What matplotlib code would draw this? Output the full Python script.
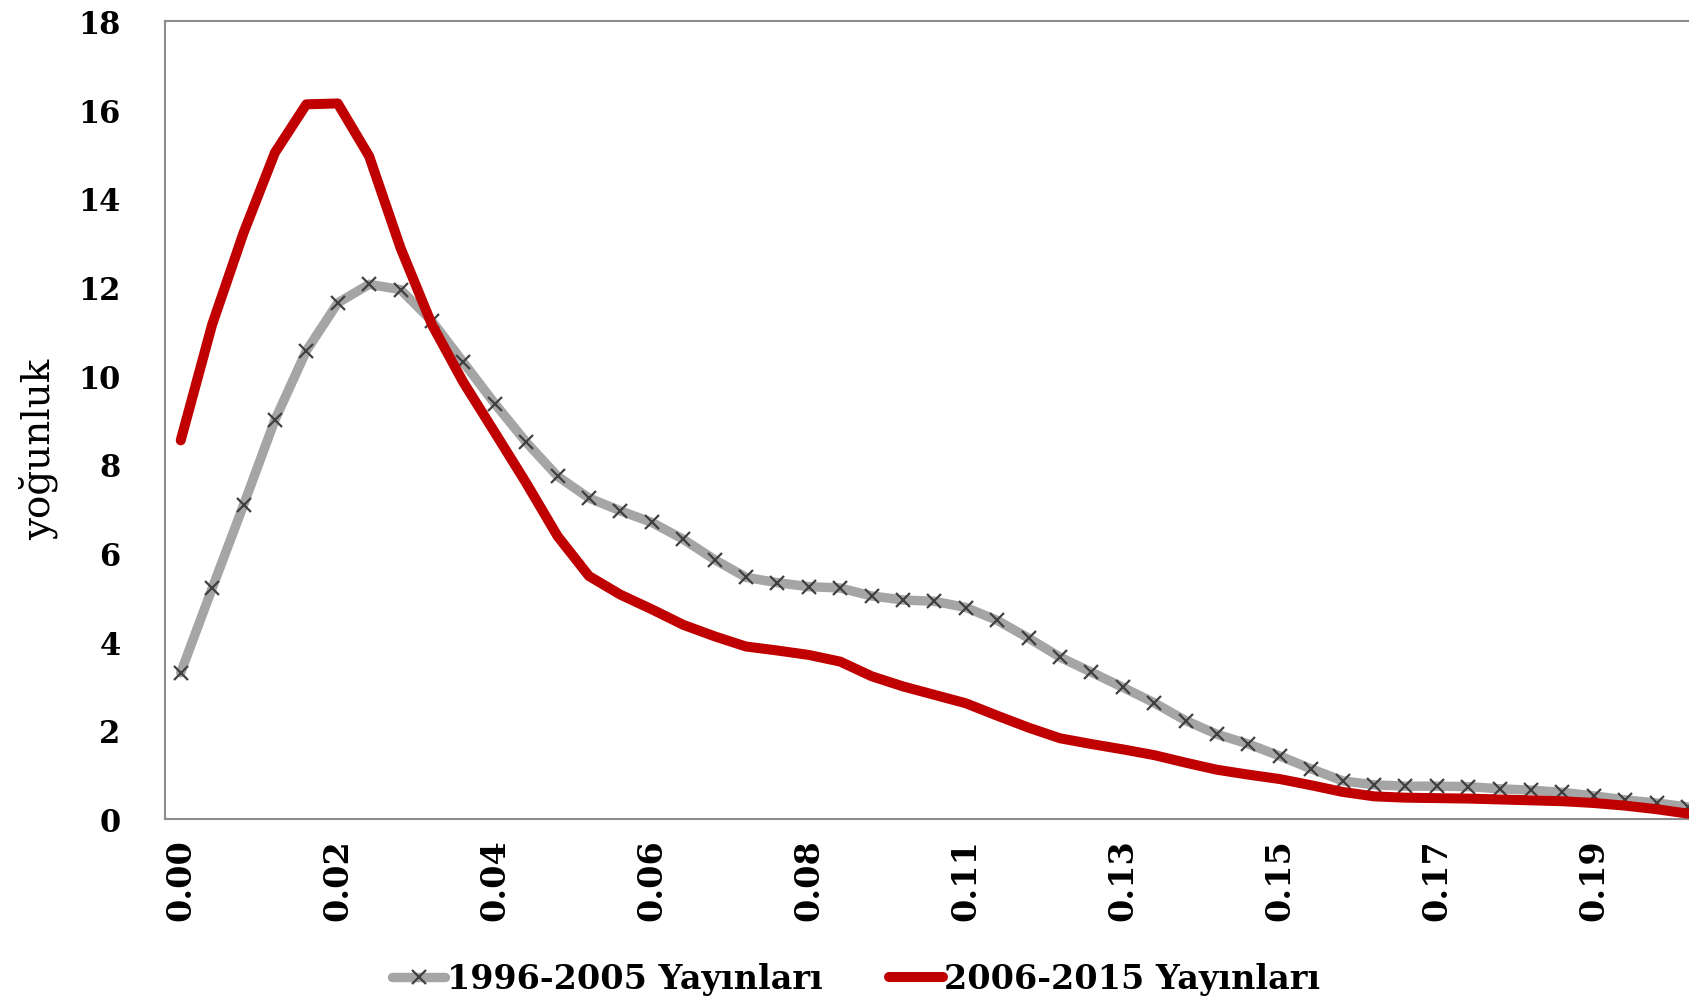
import matplotlib
matplotlib.use("Agg")
import matplotlib.pyplot as plt
import numpy as np

# yoğunluk değerleri (49 nokta, adım ~0.0042)
step = 0.00422
n_pts = 49
tick_every = 5

seri_1996 = [3.30, 5.20, 7.08, 9.00, 10.56, 11.64, 12.06, 11.94, 11.23, 10.30,
             9.37, 8.50, 7.73, 7.24, 6.95, 6.69, 6.31, 5.85, 5.45, 5.33,
             5.24, 5.21, 5.03, 4.94, 4.91, 4.77, 4.48, 4.08, 3.65, 3.31,
             2.97, 2.62, 2.22, 1.91, 1.69, 1.42, 1.13, 0.86, 0.77, 0.74,
             0.74, 0.73, 0.68, 0.65, 0.60, 0.52, 0.43, 0.36, 0.27]
seri_2006 = [8.54, 11.15, 13.22, 15.03, 16.12, 16.14, 14.95, 12.88, 11.15, 9.85,
             8.72, 7.58, 6.38, 5.48, 5.06, 4.73, 4.38, 4.12, 3.89, 3.80,
             3.70, 3.55, 3.22, 2.99, 2.80, 2.61, 2.33, 2.06, 1.82, 1.69,
             1.57, 1.44, 1.27, 1.11, 1.00, 0.90, 0.76, 0.61, 0.51, 0.48,
             0.47, 0.46, 0.44, 0.42, 0.40, 0.36, 0.30, 0.22, 0.12]

labels = ["1996-2005 Yayınları", "2006-2015 Yayınları"]
x_vals = np.arange(n_pts) * step

fig = plt.figure(figsize=(16.89, 10.04), dpi=100)
ax = fig.add_axes([0.0977, 0.1833, 0.9023, 0.7948])

idx = np.arange(n_pts)
ax.plot(idx, seri_1996, color="#A5A5A5", lw=6.8, solid_capstyle="round",
        solid_joinstyle="round", marker="x", ms=10, mec="#404040", mew=1.6,
        label=labels[0], zorder=2)
ax.plot(idx, seri_2006, color="#C00000", lw=7.2, solid_capstyle="round",
        solid_joinstyle="round", label=labels[1], zorder=3)

ax.set_xlim(-0.5, 48.03)
ax.set_ylim(0, 18)
ax.set_yticks(np.arange(0, 19, 2))
tick_pos = idx[::tick_every]
ax.set_xticks(tick_pos)
ax.set_xticklabels([f"{x_vals[i]:.2f}" for i in tick_pos], rotation=90,
                   family="DejaVu Serif", fontweight="bold", fontsize=24)
for t in ax.get_yticklabels():
    t.set_family("DejaVu Serif"); t.set_fontweight("bold"); t.set_fontsize(22)
ax.tick_params(axis="y", length=0, pad=32)
ax.tick_params(axis="x", length=0, pad=14)

for s in ["left", "bottom", "top"]:
    ax.spines[s].set_color("#8C8C8C"); ax.spines[s].set_linewidth(1.5)
ax.spines["right"].set_visible(False)

ax.set_ylabel("yoğunluk", family="DejaVu Serif", fontsize=28)
ax.yaxis.set_label_coords(-0.07, 0.465)

fig.legend(loc="center", bbox_to_anchor=(0.507, 0.024), ncol=2, frameon=False,
           prop={"family": "DejaVu Serif", "weight": "bold", "size": 24},
           handlelength=1.6, handletextpad=0.05, columnspacing=2.0)

fig.savefig("out.png", dpi=100)
